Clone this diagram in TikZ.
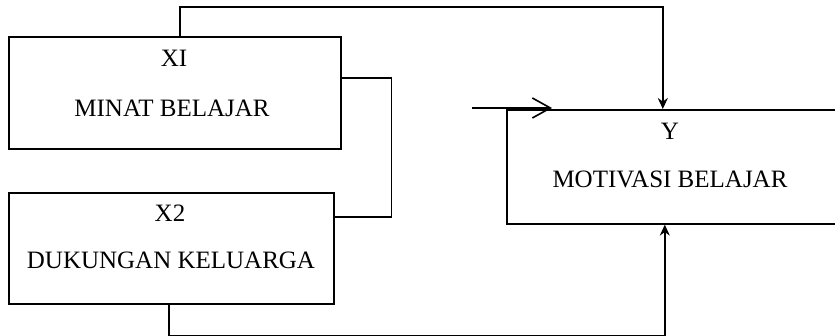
\documentclass[tikz,border=0pt]{standalone}
\usepackage{fontspec}
\setmainfont{Liberation Serif}
\usetikzlibrary{arrows.meta}
\begin{document}
\begin{tikzpicture}[x=1pt,y=-1pt,
  boxnode/.style={draw=black,line width=1.6pt,inner sep=0pt,anchor=north west},
  lbl/.style={font=\fontsize{25}{25}\selectfont,anchor=base,inner sep=0pt,text=black},
  conn/.style={draw=black,line width=1.5pt},
  arr/.style={conn,-{Stealth[length=11pt,width=10pt]}},
  barb/.style={conn,-{Straight Barb[length=18pt,width=20pt,line width=1.6pt]}}]
\clip (0,0) rectangle (835,336);
\fill[white] (0,0) rectangle (835,336);
\node[boxnode,minimum width=332pt,minimum height=112pt] (x1) at (8,36) {};
\node[boxnode,minimum width=325pt,minimum height=111pt] (x2) at (8,192) {};
\node[boxnode,minimum width=330pt,minimum height=114pt] (y) at (506,109) {};
\node[lbl] (t1a) at (174,67) {XI};
\node[lbl] (t1b) at (172,117) {MINAT BELAJAR};
\node[lbl] (t2a) at (170,222) {X2};
\node[lbl] (t2b) at (171,269) {DUKUNGAN KELUARGA};
\node[lbl] (tya) at (670,140) {Y};
\node[lbl] (tyb) at (670,188) {MOTIVASI BELAJAR};
% top connector X1 -> Y
\draw[arr] ([xshift=5pt]x1.north) -- ++(0,-29) -| ([xshift=-9pt]y.north);
% bracket X1 - X2
\draw[conn] ([yshift=15pt]x1.east) -| ([xshift=57pt,yshift=31.5pt]x2.east) -- ([yshift=31.5pt]x2.east);
% bottom connector X2 -> Y
\draw[arr] ([xshift=-2.5pt]x2.south) -- ++(0,31) -| ([xshift=-7pt]y.south);
% free arrow
\coordinate (fa) at (472,108);
\coordinate (fb) at (552,108);
\draw[barb] (fa) -- (fb);
\end{tikzpicture}
\end{document}
